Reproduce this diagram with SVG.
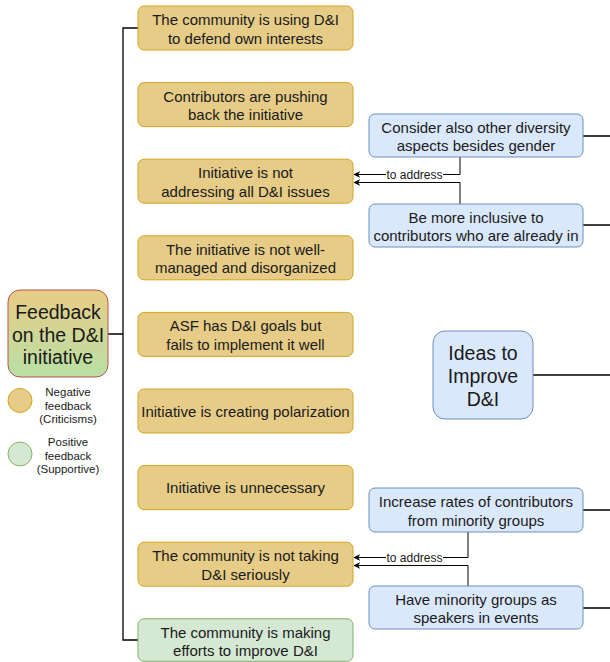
<svg xmlns="http://www.w3.org/2000/svg" width="610" height="662" viewBox="0 0 610 662">
<style>
text{font-family:"Liberation Sans",Arial,sans-serif;fill:#1a1a1a;text-anchor:middle}
.t{font-size:15px}
.big{font-size:19.5px}
.lg{font-size:11.5px}
.lbl{font-size:12px}
.neg{fill:#e6cc87;stroke:#d6a41e;stroke-width:1}
.pos{fill:#d5e8d4;stroke:#82b366;stroke-width:1}
.idea{fill:#dae8fc;stroke:#6c8ebf;stroke-width:1}
.ln{fill:none;stroke:#000;stroke-width:1.3}
.ar{fill:none;stroke:#000;stroke-width:1}
</style>
<defs>
<linearGradient id="mg" x1="0" y1="0" x2="0" y2="1">
<stop offset="0" stop-color="#e8cc86"/>
<stop offset="1" stop-color="#b9e0a5"/>
</linearGradient>
<marker id="arr" viewBox="0 0 10 10" refX="9" refY="5" markerWidth="7" markerHeight="7" orient="auto" markerUnits="userSpaceOnUse">
<path d="M10,5 L0,0 L3,5 L0,10 Z" fill="#000"/>
</marker>
</defs>

<g id="connectors">
<path class="ln" d="M108,334 H123 M138,28 H123 V640 H138"/>
<path class="ln" d="M583,136 H610 M583,225 H610 M533,375 H610 M583,510 H610 M583,608 H610"/>
<path class="ar" d="M460,157 V174.5 H354" marker-end="url(#arr)"/>
<path class="ar" d="M460,204 V182.5 H354" marker-end="url(#arr)"/>
<path class="ar" d="M468,532 V557.5 H354" marker-end="url(#arr)"/>
<path class="ar" d="M468,586 V565.5 H354" marker-end="url(#arr)"/>
<rect x="386" y="168" width="57" height="13" fill="#fff"/>
<text class="lbl" x="414.5" y="178.5">to address</text>
<rect x="386" y="551" width="57" height="13" fill="#fff"/>
<text class="lbl" x="414.5" y="561.5">to address</text>
</g>

<g id="main">
<rect x="8" y="290" width="100" height="87" rx="12" fill="url(#mg)" stroke="#b85450"/>
<text class="big" x="58" y="318.5">Feedback</text>
<text class="big" x="58" y="341.5">on the D&amp;I</text>
<text class="big" x="58" y="364">initiative</text>
</g>

<g id="legend-negative">
<circle class="neg" cx="20" cy="400.5" r="12"/>
<text class="lg" x="68" y="396">Negative</text>
<text class="lg" x="68" y="409.5">feedback</text>
<text class="lg" x="68" y="423">(Criticisms)</text>
</g>
<g id="legend-positive">
<circle class="pos" cx="20" cy="454" r="12"/>
<text class="lg" x="68" y="446">Positive</text>
<text class="lg" x="68" y="459.5">feedback</text>
<text class="lg" x="68" y="473">(Supportive)</text>
</g>

<g id="n1"><rect class="neg" x="138" y="6" width="215" height="44" rx="6"/>
<text class="t" x="245.5" y="25">The community is using D&amp;I</text><text class="t" x="245.5" y="43.5">to defend own interests</text></g>
<g id="n2"><rect class="neg" x="138" y="82.6" width="215" height="44" rx="6"/>
<text class="t" x="245.5" y="101.6">Contributors are pushing</text><text class="t" x="245.5" y="120.1">back the initiative</text></g>
<g id="n3"><rect class="neg" x="138" y="159.2" width="215" height="44" rx="6"/>
<text class="t" x="245.5" y="178.2">Initiative is not</text><text class="t" x="245.5" y="196.7">addressing all D&amp;I issues</text></g>
<g id="n4"><rect class="neg" x="138" y="235.8" width="215" height="44" rx="6"/>
<text class="t" x="245.5" y="254.8">The initiative is not well-</text><text class="t" x="245.5" y="273.3">managed and disorganized</text></g>
<g id="n5"><rect class="neg" x="138" y="312.4" width="215" height="44" rx="6"/>
<text class="t" x="245.5" y="331.4">ASF has D&amp;I goals but</text><text class="t" x="245.5" y="349.9">fails to implement it well</text></g>
<g id="n6"><rect class="neg" x="138" y="389" width="215" height="44" rx="6"/>
<text class="t" x="245.5" y="416.5">Initiative is creating polarization</text></g>
<g id="n7"><rect class="neg" x="138" y="465.6" width="215" height="44" rx="6"/>
<text class="t" x="245.5" y="493.1">Initiative is unnecessary</text></g>
<g id="n8"><rect class="neg" x="138" y="542.2" width="215" height="44" rx="6"/>
<text class="t" x="245.5" y="561.2">The community is not taking</text><text class="t" x="245.5" y="579.7">D&amp;I seriously</text></g>
<g id="n9"><rect class="pos" x="138" y="618.8" width="215" height="42.5" rx="6"/>
<text class="t" x="245.5" y="637.8">The community is making</text><text class="t" x="245.5" y="656.3">efforts to improve D&amp;I</text></g>

<g id="ideas"><rect class="idea" x="433" y="331" width="100" height="88" rx="12"/>
<text class="big" x="483" y="359.5">Ideas to</text><text class="big" x="483" y="382.5">Improve</text><text class="big" x="483" y="405.5">D&amp;I</text></g>

<g id="i1"><rect class="idea" x="369" y="114" width="214" height="43" rx="6"/>
<text class="t" x="476" y="132.5">Consider also other diversity</text><text class="t" x="476" y="151">aspects besides gender</text></g>
<g id="i2"><rect class="idea" x="369" y="204" width="214" height="43" rx="6"/>
<text class="t" x="476" y="222.5">Be more inclusive to</text><text class="t" x="476" y="241">contributors who are already in</text></g>
<g id="i3"><rect class="idea" x="369" y="488" width="214" height="44" rx="6"/>
<text class="t" x="476" y="507">Increase rates of contributors</text><text class="t" x="476" y="525.5">from minority groups</text></g>
<g id="i4"><rect class="idea" x="369" y="586" width="214" height="43" rx="6"/>
<text class="t" x="476" y="604.5">Have minority groups as</text><text class="t" x="476" y="623">speakers in events</text></g>
</svg>
